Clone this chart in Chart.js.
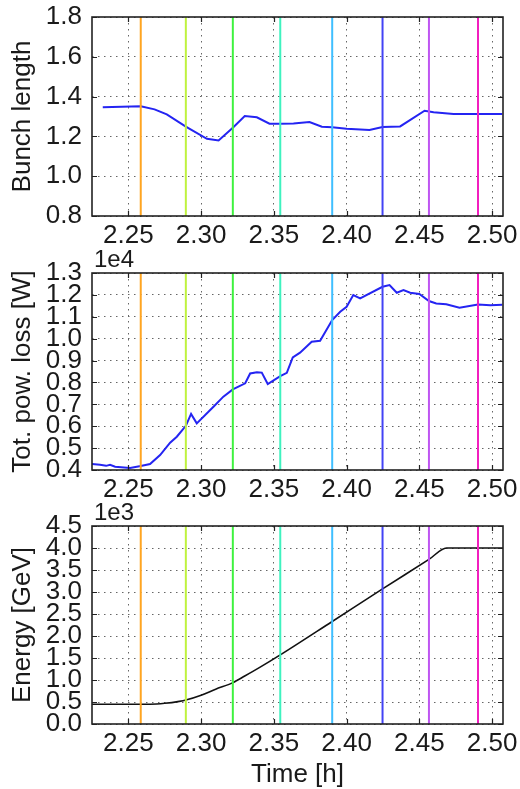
<!DOCTYPE html>
<html>
<head>
<meta charset="utf-8">
<title>Ramp monitor</title>
<script src="https://cdn.jsdelivr.net/npm/chart.js@4.4.1/dist/chart.umd.min.js"></script>
<style>
    body { margin: 0; background: #fff; }
    #wrap { position: relative; width: 520px; height: 789px; overflow: hidden; }
    #wrap canvas { position: absolute; left: 0; }
</style>
</head>
<body>
<div id="wrap">
    <canvas id="bunch-chart" width="520" height="255" style="top:0px"></canvas>
    <canvas id="power-chart" width="520" height="275" style="top:245px"></canvas>
    <canvas id="energy-chart" width="520" height="289" style="top:500px"></canvas>
</div>
<script>
// Time [h] of the marker lines and their colours
const markerTimes = [2.2585, 2.2895, 2.3218, 2.3544, 2.3901, 2.4247, 2.4566, 2.4903];
const markerColors = ['#ffa521', '#bff23f', '#3ff23f', '#3ff2bf', '#3fbfff', '#4343f5', '#bf55f2', '#f21fbf'];

// Bunch length
const bunchTime = [2.2324, 2.2585, 2.268, 2.2764, 2.2895, 2.304, 2.312, 2.3218, 2.330, 2.3383, 2.347, 2.3544, 2.3635,
    2.3745, 2.383, 2.3901, 2.400, 2.4157, 2.4247, 2.4368, 2.4536, 2.4598, 2.4735, 2.4903, 2.507];
const bunchLength = [1.346, 1.351, 1.336, 1.311, 1.249, 1.188, 1.180, 1.244, 1.302, 1.296, 1.264, 1.263, 1.265,
    1.272, 1.249, 1.246, 1.239, 1.232, 1.247, 1.250, 1.329, 1.321, 1.313, 1.312, 1.313];

// Total power loss [W]
const powerTime = [2.225, 2.2305, 2.2347, 2.2374, 2.2409, 2.2512, 2.2585, 2.2649, 2.2718, 2.2787, 2.2833, 2.2895,
    2.2931, 2.297, 2.3085, 2.3153, 2.3218, 2.3303, 2.3337, 2.3383, 2.3417, 2.3458, 2.3544, 2.3589, 2.363, 2.368,
    2.376, 2.3818, 2.3901, 2.3956, 2.400, 2.4046, 2.4093, 2.4247, 2.4295, 2.4345, 2.4391, 2.4437, 2.45, 2.4566,
    2.4616, 2.4685, 2.4776, 2.4903, 2.4988, 2.507];
const powerLoss = [4270, 4240, 4190, 4240, 4150, 4090, 4180, 4270, 4680, 5250, 5520, 6020,
    6560, 6130, 6890, 7350, 7680, 7960, 8410, 8470, 8450, 7930, 8290, 8440, 9140, 9360,
    9860, 9900, 10850, 11230, 11460, 11990, 11840, 12370, 12450, 12100, 12220, 12100, 12040, 11720,
    11610, 11570, 11410, 11560, 11530, 11550];

// Beam energy [GeV]
const energyTime = [2.225, 2.265, 2.275, 2.285, 2.2895, 2.30, 2.31, 2.3218, 2.33, 2.34, 2.3544, 2.3901,
    2.4247, 2.4566, 2.4687, 2.51];
const energyGeV = [450, 450, 470, 515, 545, 655, 790, 940, 1090, 1280, 1570, 2330,
    3070, 3740, 4000, 4000];

const xTicks = [2.25, 2.30, 2.35, 2.40, 2.45, 2.50];
const X_MIN = 2.225, X_MAX = 2.5075;

const FONT = { family: '"Liberation Sans", Arial, sans-serif', size: 26 };
const TEXT = '#1a1a1a';

// Frame round the plot area plus inward tick marks on all four sides
const framePlugin = {
    id: 'frame',
    afterDatasetsDraw(chart) {
        const { ctx, chartArea: a, scales } = chart;
        ctx.save();
        ctx.strokeStyle = '#222';
        ctx.lineWidth = 1.2;
        ctx.beginPath();
        scales.x.ticks.forEach(t => {
            const px = Math.round(scales.x.getPixelForValue(t.value)) + 0.5;
            ctx.moveTo(px, a.bottom); ctx.lineTo(px, a.bottom - 5);
            ctx.moveTo(px, a.top); ctx.lineTo(px, a.top + 5);
        });
        scales.y.ticks.forEach(t => {
            const py = Math.round(scales.y.getPixelForValue(t.value)) + 0.5;
            ctx.moveTo(a.left, py); ctx.lineTo(a.left + 5, py);
            ctx.moveTo(a.right, py); ctx.lineTo(a.right - 5, py);
        });
        ctx.stroke();
        ctx.lineWidth = 1.6;
        ctx.strokeRect(a.left, a.top, a.right - a.left, a.bottom - a.top);
        ctx.restore();
    }
};

// Exponent label ("1e4") above the top-left corner of the y axis
const offsetLabelPlugin = {
    id: 'offsetLabel',
    afterDraw(chart, args, opts) {
        if (!opts.text) return;
        const { ctx, chartArea: a } = chart;
        ctx.save();
        ctx.font = `${FONT.size - 2}px ${FONT.family}`;
        ctx.fillStyle = TEXT;
        ctx.textAlign = 'left';
        ctx.textBaseline = 'alphabetic';
        ctx.fillText(opts.text, a.left + 2, a.top - 6);
        ctx.restore();
    }
};

function markerDatasets(yMin, yMax) {
    return markerTimes.map((t, i) => ({
        data: [{ x: t, y: yMin }, { x: t, y: yMax }],
        borderColor: markerColors[i],
        borderWidth: 2,
        pointRadius: 0,
        order: 0
    }));
}

function makePanel(canvasId, cfg) {
    const canvas = document.getElementById(canvasId);
    const H = canvas.height;
    const series = {
        data: cfg.x.map((x, i) => ({ x, y: cfg.y[i] })),
        borderColor: cfg.color,
        borderWidth: cfg.lineWidth,
        pointRadius: 0,
        tension: 0,
        cubicInterpolationMode: cfg.monotone ? 'monotone' : 'default',
        order: 1
    };
    return new Chart(canvas, {
        type: 'line',
        data: { datasets: [series, ...markerDatasets(cfg.yMin, cfg.yMax)] },
        options: {
            responsive: false,
            animation: false,
            events: [],
            layout: { padding: { top: cfg.top, right: 17, left: 0, bottom: 0 } },
            plugins: {
                legend: { display: false },
                tooltip: { enabled: false },
                offsetLabel: { text: cfg.offsetText || '' }
            },
            scales: {
                x: {
                    type: 'linear',
                    min: X_MIN,
                    max: X_MAX,
                    afterBuildTicks: s => { s.ticks = xTicks.map(v => ({ value: v })); },
                    afterFit: s => {
                        s.height = H - cfg.bottom;
                        s.paddingLeft = 0; s.paddingRight = 0;
                    },
                    ticks: {
                        font: FONT, color: TEXT, padding: 4, maxRotation: 0, autoSkip: false,
                        callback: v => v.toFixed(2)
                    },
                    grid: { color: '#666', lineWidth: 1, drawTicks: false },
                    border: { display: false, dash: [1.5, 4.5] },
                    title: {
                        display: !!cfg.xTitle,
                        text: cfg.xTitle || '',
                        font: Object.assign({}, FONT, { lineHeight: 1.0 }),
                        color: TEXT,
                        padding: { top: 0, bottom: 1 }
                    }
                },
                y: {
                    min: cfg.yMin,
                    max: cfg.yMax,
                    afterFit: s => {
                        s.width = 92;
                        s.paddingTop = 0; s.paddingBottom = 0;
                    },
                    ticks: {
                        stepSize: cfg.step, font: FONT, color: TEXT, padding: 10, autoSkip: false,
                        callback: cfg.tickFormat
                    },
                    grid: { color: '#666', lineWidth: 1, drawTicks: false },
                    border: { display: false, dash: [1.5, 4.5] },
                    title: {
                        display: true,
                        text: cfg.yTitle,
                        font: FONT,
                        color: TEXT,
                        padding: { top: 7, bottom: 0 }
                    }
                }
            }
        },
        plugins: [framePlugin, offsetLabelPlugin]
    });
}

makePanel('bunch-chart', {
    x: bunchTime, y: bunchLength, color: '#2424f2', lineWidth: 2,
    yMin: 0.8, yMax: 1.8, step: 0.2, top: 17, bottom: 216,
    tickFormat: v => v.toFixed(1),
    yTitle: 'Bunch length'
});

makePanel('power-chart', {
    x: powerTime, y: powerLoss, color: '#2424f2', lineWidth: 2,
    yMin: 4000, yMax: 13000, step: 1000, top: 28, bottom: 225,
    tickFormat: v => (v / 1e4).toFixed(1),
    yTitle: 'Tot. pow. loss [W]', offsetText: '1e4'
});

makePanel('energy-chart', {
    x: energyTime, y: energyGeV, color: '#111', lineWidth: 1.6, monotone: true,
    yMin: 0, yMax: 4500, step: 500, top: 26, bottom: 224,
    tickFormat: v => (v / 1e3).toFixed(1),
    yTitle: 'Energy [GeV]', offsetText: '1e3', xTitle: 'Time [h]'
});
</script>
</body>
</html>
